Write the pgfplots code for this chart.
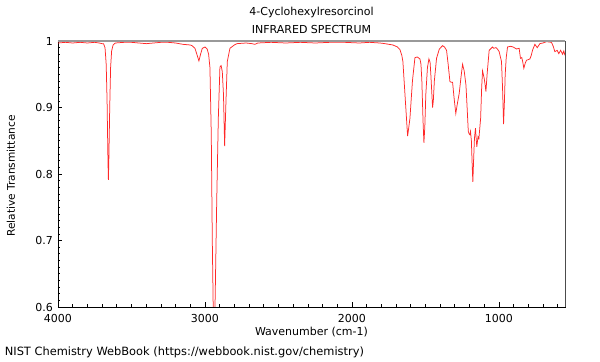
\documentclass[border=0pt]{standalone}
\usepackage{fontspec}
\setmainfont{DejaVu Sans}
\usepackage{pgfplots}
\pgfplotsset{compat=1.18}
\definecolor{spec}{RGB}{255,40,40}
\begin{document}
\fontsize{11}{13}\selectfont
\begin{tikzpicture}
\begin{axis}[
  at={(0,0)}, anchor=south west,
  scale only axis, width=507pt, height=266pt,
  x dir=reverse, xmin=550, xmax=4000, ymin=0.6, ymax=1,
  xtick={1000,2000,3000,4000},
  minor xtick={600,700,800,900,1100,1200,1300,1400,1500,1600,1700,1800,1900,2100,2200,2300,2400,2500,2600,2700,2800,2900,3100,3200,3300,3400,3500,3600,3700,3800,3900},
  ytick={0.6,0.7,0.8,0.9,1}, yticklabels={0.6,0.7,0.8,0.9,1},
  minor ytick={0.61,0.62,0.63,0.64,0.65,0.66,0.67,0.68,0.69,0.71,0.72,0.73,0.74,0.75,0.76,0.77,0.78,0.79,0.81,0.82,0.83,0.84,0.85,0.86,0.87,0.88,0.89,0.91,0.92,0.93,0.94,0.95,0.96,0.97,0.98,0.99},
  xtick pos=left, ytick pos=left, tick align=inside,
  major tick length=4.5pt, minor tick length=2.5pt,
  tick style={black, line width=0.6pt},
  xticklabels={1000,2000,3000,4000},
  /pgf/number format/assume math mode=true,
  xticklabel style={yshift=-3pt},
  yticklabel style={xshift=-1.2pt},
  axis line style={black, line width=0.7pt},
  clip=true,
]
\addplot[spec, line width=0.75pt] coordinates {
(4000,0.997) (3950,0.998) (3900,0.997) (3850,0.998) (3800,0.997) (3750,0.998) (3720,0.997) (3700,0.996)
(3690,0.996) (3680,0.990) (3672,0.965) (3666,0.91) (3660,0.82) (3657,0.791) (3654,0.82) (3648,0.90)
(3642,0.96) (3635,0.985) (3625,0.994) (3610,0.997) (3550,0.998) (3500,0.998) (3450,0.997) (3400,0.996)
(3350,0.997) (3300,0.998) (3250,0.998) (3200,0.997) (3150,0.995) (3100,0.994) (3088,0.993) (3068,0.989)
(3055,0.980) (3041,0.970) (3030,0.980) (3018,0.989) (3000,0.991) (2985,0.988) (2975,0.980) (2966,0.960)
(2957,0.86) (2950,0.70) (2942,0.57) (2936,0.55) (2930,0.62) (2920,0.758) (2909,0.884) (2898,0.961)
(2890,0.963) (2882,0.954) (2874,0.92) (2866,0.842) (2857,0.909) (2848,0.969) (2830,0.989) (2800,0.994)
(2782,0.996) (2720,0.997) (2680,0.996) (2660,0.995) (2640,0.997) (2550,0.998) (2450,0.997) (2350,0.998)
(2250,0.997) (2150,0.998) (2050,0.998) (1950,0.997) (1880,0.998) (1810,0.997) (1775,0.996) (1721,0.994)
(1690,0.991) (1673,0.987) (1660,0.978) (1653,0.969) (1639,0.92) (1621,0.857) (1613,0.87) (1605,0.884)
(1588,0.94) (1571,0.975) (1555,0.976) (1537,0.973) (1530,0.965) (1524,0.94) (1516,0.88) (1510,0.847)
(1504,0.87) (1497,0.92) (1486,0.960) (1476,0.973) (1468,0.968) (1463,0.95) (1451,0.900) (1446,0.91)
(1439,0.94) (1424,0.974) (1405,0.988) (1383,0.993) (1370,0.991) (1356,0.986) (1345,0.965) (1333,0.939)
(1324,0.938) (1315,0.938) (1305,0.915) (1293,0.891) (1283,0.905) (1270,0.921) (1258,0.945) (1247,0.965)
(1236,0.955) (1224,0.934) (1216,0.90) (1208,0.864) (1202,0.860) (1197,0.859) (1193,0.864) (1187,0.85)
(1181,0.81) (1177,0.788) (1172,0.82) (1166,0.854) (1159,0.869) (1155,0.855) (1150,0.841) (1142,0.856)
(1136,0.853) (1124,0.884) (1117,0.93) (1111,0.955) (1100,0.944) (1094,0.935) (1088,0.924) (1080,0.95)
(1066,0.986) (1043,0.991) (1035,0.989) (1020,0.990) (1010,0.988) (998,0.984) (982,0.969) (975,0.93)
(968,0.875) (962,0.91) (957,0.949) (950,0.975) (941,0.991) (920,0.992) (903,0.991) (880,0.988)
(862,0.989) (853,0.974) (844,0.975) (837,0.968) (830,0.959) (820,0.967) (812,0.971) (800,0.972)
(789,0.973) (780,0.978) (771,0.986) (755,0.995) (739,0.990) (721,0.996) (700,0.997) (676,0.999)
(642,0.998) (630,0.992) (619,0.984) (603,0.986) (592,0.981) (580,0.986) (566,0.980) (558,0.985)
(551,0.979) (550,0.979)
};
\end{axis}
\draw[black!40, line width=1.6pt] (0,266pt) -- (507pt,266pt);
\draw[black!70, line width=0.7pt] (507pt,0) -- (507pt,266pt);
\node[anchor=center] at (253.5pt,294.5pt) {4-Cyclohexylresorcinol};
\node[anchor=center] at (253.5pt,277pt) {INFRARED SPECTRUM};
\node[anchor=center] at (253.5pt,-25.5pt) {Wavenumber (cm-1)};
\node[anchor=center, rotate=90] at (-47pt,131pt) {\fontsize{10.6}{12}\selectfont Relative Transmittance};
\node[anchor=west] at (-57pt,-45.5pt) {\fontsize{11.4}{13}\selectfont NIST Chemistry WebBook (https://webbook.nist.gov/chemistry)};
\useasboundingbox (-58pt,-53pt) rectangle (542pt,307pt);
\end{tikzpicture}
\end{document}
